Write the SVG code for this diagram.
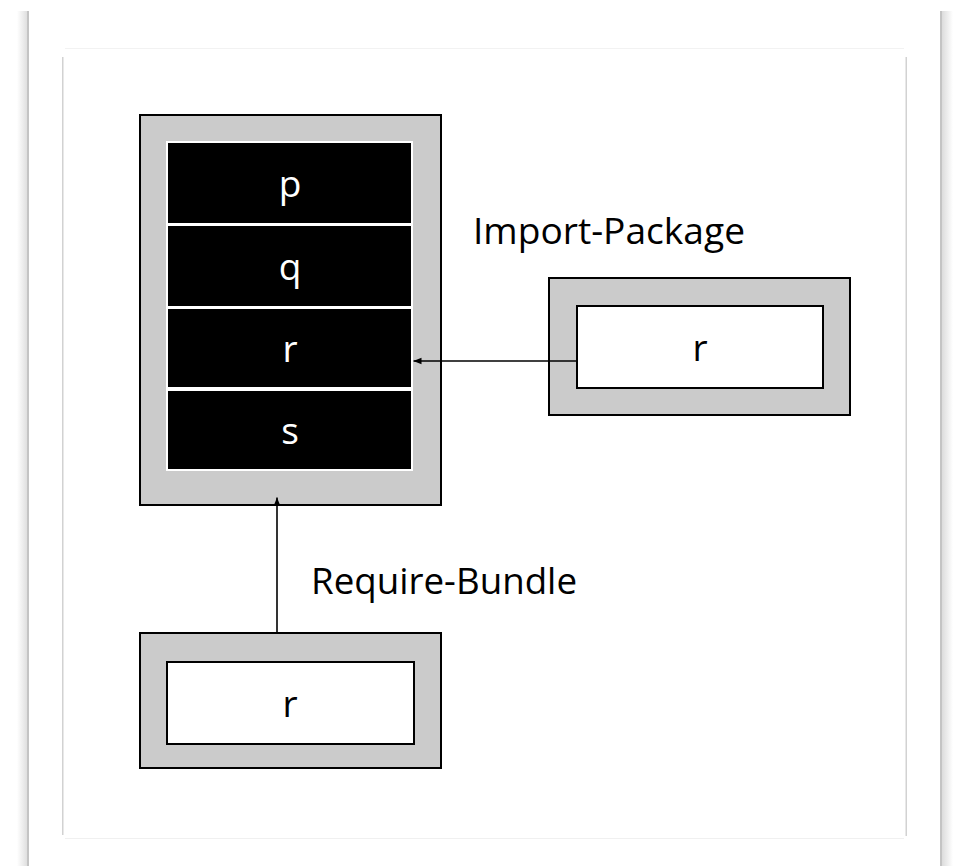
<svg xmlns="http://www.w3.org/2000/svg" width="957" height="866" viewBox="0 0 957 866">
  <defs>
    <linearGradient id="shadeL" x1="0" y1="0" x2="1" y2="0">
      <stop offset="0" stop-color="#ffffff"/>
      <stop offset="1" stop-color="#dcdcdc"/>
    </linearGradient>
    <linearGradient id="shadeR" x1="0" y1="0" x2="1" y2="0">
      <stop offset="0" stop-color="#dcdcdc"/>
      <stop offset="1" stop-color="#ffffff"/>
    </linearGradient>
    <marker id="arrow" viewBox="0 0 8 8" refX="8" refY="4" markerWidth="8" markerHeight="8" markerUnits="userSpaceOnUse" orient="auto">
      <path d="M0,0.8 L8,4 L0,7.2 Z" fill="#000"/>
    </marker>
    <style>
      .bundle { fill: #cbcbcb; stroke: #000; stroke-width: 2; }
      .pkg { fill: #fff; stroke: #000; stroke-width: 2; }
      .cell { fill: #000; stroke: #fff; stroke-width: 2; }
      .cell-label { font-family: "Open Sans", "DejaVu Sans", sans-serif; font-size: 37px; fill: #fff; text-anchor: middle; }
      .pkg-label { font-family: "Open Sans", "DejaVu Sans", sans-serif; font-size: 37px; fill: #000; text-anchor: middle; }
      .edge-label { font-family: "Open Sans", "DejaVu Sans", sans-serif; font-size: 37px; fill: #000; }
      .edge { fill: none; stroke: #000; stroke-width: 1.6; marker-end: url(#arrow); }
    </style>
  </defs>

  <!-- page background with side shadows -->
  <rect x="0" y="0" width="957" height="866" fill="#ffffff"/>
  <rect x="17" y="11" width="11" height="855" fill="url(#shadeL)"/>
  <rect x="27" y="11" width="2" height="855" fill="#c4c4c4"/>
  <rect x="940" y="11" width="2" height="855" fill="#c4c4c4"/>
  <rect x="942" y="11" width="11" height="855" fill="url(#shadeR)"/>

  <!-- content frame -->
  <rect x="65" y="48" width="839" height="1" fill="#f2f2f2"/>
  <rect x="65" y="838" width="839" height="1" fill="#f0f0f0"/>
  <rect x="62" y="57" width="1.5" height="778" fill="#d2d2d2"/>
  <rect x="905.5" y="57" width="1.5" height="779" fill="#d2d2d2"/>

  <!-- exporting bundle with packages p, q, r, s -->
  <g id="exporter">
    <rect class="bundle" x="140" y="115" width="301" height="390"/>
    <rect x="166" y="141" width="247" height="330" fill="#fff"/>
    <g id="pkg-p">
      <rect class="cell" x="167" y="142" width="245" height="82"/>
      <text class="cell-label" x="290" y="197">p</text>
    </g>
    <g id="pkg-q">
      <rect class="cell" x="167" y="225" width="245" height="82"/>
      <text class="cell-label" x="290" y="280">q</text>
    </g>
    <g id="pkg-r">
      <rect class="cell" x="167" y="308" width="245" height="80"/>
      <text class="cell-label" x="290" y="362">r</text>
    </g>
    <g id="pkg-s">
      <rect class="cell" x="167" y="390" width="245" height="80"/>
      <text class="cell-label" x="290" y="444">s</text>
    </g>
  </g>

  <!-- importing bundle -->
  <g id="importer">
    <rect class="bundle" x="549" y="278" width="301" height="137"/>
    <rect class="pkg" x="577" y="306" width="246" height="82"/>
    <text class="pkg-label" x="700" y="361">r</text>
  </g>

  <!-- requiring bundle -->
  <g id="requirer">
    <rect class="bundle" x="140" y="633" width="301" height="135"/>
    <rect class="pkg" x="167" y="662" width="247" height="82"/>
    <text class="pkg-label" x="290" y="717">r</text>
  </g>

  <!-- dependencies -->
  <g id="connectors">
    <line class="edge" x1="577" y1="361" x2="413.5" y2="361"/>
    <line class="edge" x1="277" y1="633" x2="277" y2="497.5"/>
    <text class="edge-label" x="473" y="244" textLength="272" lengthAdjust="spacingAndGlyphs">Import-Package</text>
    <text class="edge-label" x="311" y="594" textLength="266" lengthAdjust="spacingAndGlyphs">Require-Bundle</text>
  </g>
</svg>
